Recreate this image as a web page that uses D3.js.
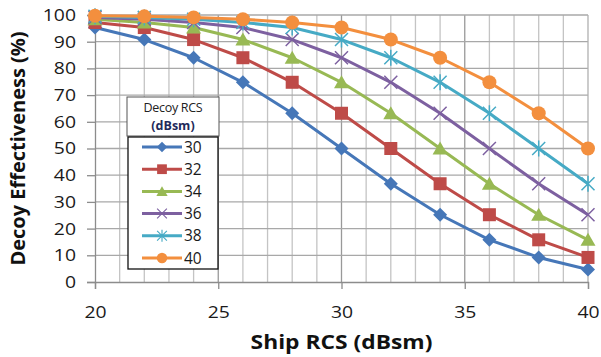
<!DOCTYPE html>
<html>
<head>
<meta charset="utf-8">
<script src="https://cdn.jsdelivr.net/npm/d3@7"></script>
<style>
  body { margin: 0; background: #fff; }
  svg { display: block; font-family: "Open Sans", sans-serif; }
</style>
</head>
<body>
<div id="chart"></div>
<script>
const shipRcs = [20, 22, 24, 26, 28, 30, 32, 34, 36, 38, 40]
const decoyRcs = ["30", "32", "34", "36", "38", "40"]
const eff30 = [95.3, 90.8, 84.0, 74.8, 63.2, 50.0, 36.8, 25.2, 15.8, 9.2, 4.7]
const eff32 = [97.2, 95.3, 90.8, 84.0, 74.8, 63.2, 50.0, 36.8, 25.2, 15.8, 9.2]
const eff34 = [98.4, 97.2, 95.3, 90.8, 84.0, 74.8, 63.2, 50.0, 36.8, 25.2, 15.8]
const eff36 = [99.1, 98.4, 97.2, 95.3, 90.8, 84.0, 74.8, 63.2, 50.0, 36.8, 25.2]
const eff38 = [99.5, 99.1, 98.4, 97.2, 95.3, 90.8, 84.0, 74.8, 63.2, 50.0, 36.8]
const eff40 = [99.7, 99.5, 99.1, 98.4, 97.2, 95.3, 90.8, 84.0, 74.8, 63.2, 50.0]
const xTicks = [20, 25, 30, 35, 40]
const yTicks = [0, 10, 20, 30, 40, 50, 60, 70, 80, 90, 100]

const seriesValues = [eff30, eff32, eff34, eff36, eff38, eff40]
const colors = ["#4677b8", "#be4b48", "#98b954", "#7d60a0", "#46aac5", "#f38f3e"]
const markers = ["diamond", "square", "triangle", "cross", "star", "circle"]

const W = 601, H = 357
const margin = {top: 15, right: 13, bottom: 75, left: 95}
const stretch = 1.14

const svg = d3.select("#chart").append("svg")
  .attr("width", W).attr("height", H)

const x = d3.scaleLinear().domain([20, 40]).range([margin.left, W - margin.right])
const y = d3.scaleLinear().domain([0, 100]).range([H - margin.bottom, margin.top])

// grid: minor every 1 dBsm, darker at the 5s
const grid = svg.append("g")
grid.selectAll("line.v")
  .data(d3.range(21, 40))
  .enter().append("line")
  .attr("x1", d => x(d)).attr("x2", d => x(d))
  .attr("y1", y(0)).attr("y2", y(100))
  .attr("stroke", d => d % 5 === 0 ? "#999" : "#c4c4c4")
  .attr("stroke-width", 1.3)
grid.selectAll("line.h")
  .data(yTicks.slice(1))
  .enter().append("line")
  .attr("x1", x(20)).attr("x2", x(40))
  .attr("y1", d => y(d)).attr("y2", d => y(d))
  .attr("stroke", "#a8a8a8")
  .attr("stroke-width", 1.3)
grid.append("line")
  .attr("x1", x(40)).attr("x2", x(40)).attr("y1", y(0)).attr("y2", y(100))
  .attr("stroke", "#b0b0b0").attr("stroke-width", 1.3)

// axes
const xAxis = svg.append("g")
  .attr("transform", `translate(0,${y(0)})`)
  .call(d3.axisBottom(x).tickValues(xTicks).tickSize(7).tickPadding(17))
const yAxis = svg.append("g")
  .attr("transform", `translate(${x(20)},0)`)
  .call(d3.axisLeft(y).tickValues(yTicks).tickSize(8))
;[xAxis, yAxis].forEach(a => {
  a.selectAll("path, line").attr("stroke", "#8c8c8c").attr("stroke-width", 1.3)
  a.selectAll("text").attr("font-size", 17).attr("fill", "#1a1a1a")
    .attr("font-family", "Open Sans, sans-serif")
})
xAxis.selectAll("text").attr("transform", `scale(${stretch},1)`)
yAxis.selectAll("text")
  .attr("x", -19 / stretch)
  .attr("transform", `scale(${stretch},1)`)

// axis titles
svg.append("text")
  .attr("transform", `translate(${(x(20) + x(40)) / 2},349) scale(${stretch},1)`)
  .attr("text-anchor", "middle")
  .attr("font-size", 20).attr("font-weight", "bold").attr("fill", "#111")
  .text("Ship RCS (dBsm)")
svg.append("text")
  .attr("transform", `translate(25,${(y(0) + y(100)) / 2}) rotate(-90)`)
  .attr("text-anchor", "middle")
  .attr("font-size", 20).attr("font-weight", "bold").attr("fill", "#111")
  .text("Decoy Effectiveness (%)")

function drawMarker(g, type, color) {
  if (type === "diamond") {
    g.append("path").attr("d", "M0,-7L7,0L0,7L-7,0Z").attr("fill", color)
  } else if (type === "square") {
    g.append("rect").attr("x", -6.5).attr("y", -6.5).attr("width", 13).attr("height", 13).attr("fill", color)
  } else if (type === "triangle") {
    g.append("path").attr("d", "M0,-7L7.5,6L-7.5,6Z").attr("fill", color)
  } else if (type === "cross") {
    g.append("path").attr("d", "M-6.5,-6.5L6.5,6.5M-6.5,6.5L6.5,-6.5").attr("stroke", color).attr("stroke-width", 1.5)
  } else if (type === "star") {
    g.append("path").attr("d", "M-6.5,-6.5L6.5,6.5M-6.5,6.5L6.5,-6.5M0,-8L0,8").attr("stroke", color).attr("stroke-width", 1.5)
  } else {
    g.append("circle").attr("r", 7).attr("fill", color)
  }
}

const line = d3.line()
  .x((d, i) => x(shipRcs[i]))
  .y(d => y(d))

seriesValues.forEach((vals, k) => {
  const g = svg.append("g")
  g.append("path")
    .datum(vals)
    .attr("d", line)
    .attr("fill", "none")
    .attr("stroke", colors[k])
    .attr("stroke-width", 3)
    .attr("stroke-linejoin", "round")
  vals.forEach((v, i) => {
    const m = g.append("g").attr("transform", `translate(${x(shipRcs[i])},${y(v)})`)
    drawMarker(m, markers[k], colors[k])
  })
})

// legend
const lg = svg.append("g")
lg.append("rect").attr("x", 127).attr("y", 97).attr("width", 92).attr("height", 39)
  .attr("fill", "#fff").attr("stroke", "#555").attr("stroke-width", 1)
lg.append("text").attr("x", 173).attr("y", 112).attr("text-anchor", "middle")
  .attr("font-size", 12.5).attr("letter-spacing", -0.3).attr("fill", "#222").text("Decoy RCS")
lg.append("text").attr("x", 173).attr("y", 130).attr("text-anchor", "middle")
  .attr("font-size", 12.5).attr("font-weight", "bold").attr("fill", "#1f2a5a").text("(dBsm)")
lg.append("rect").attr("x", 128).attr("y", 137).attr("width", 90).attr("height", 132)
  .attr("fill", "#fff").attr("stroke", "#111").attr("stroke-width", 1.3)

const ly = d3.scalePoint().domain(decoyRcs).range([147, 258])
decoyRcs.forEach((name, k) => {
  const cy = ly(name)
  lg.append("line").attr("x1", 142).attr("x2", 182).attr("y1", cy).attr("y2", cy)
    .attr("stroke", colors[k]).attr("stroke-width", 3)
  const m = lg.append("g").attr("transform", `translate(162,${cy}) scale(0.75)`)
  drawMarker(m, markers[k], colors[k])
  lg.append("text").attr("x", 184).attr("y", cy + 5.5)
    .attr("font-size", 15.5).attr("fill", "#1a1a1a").text(name)
})
</script>
</body>
</html>
